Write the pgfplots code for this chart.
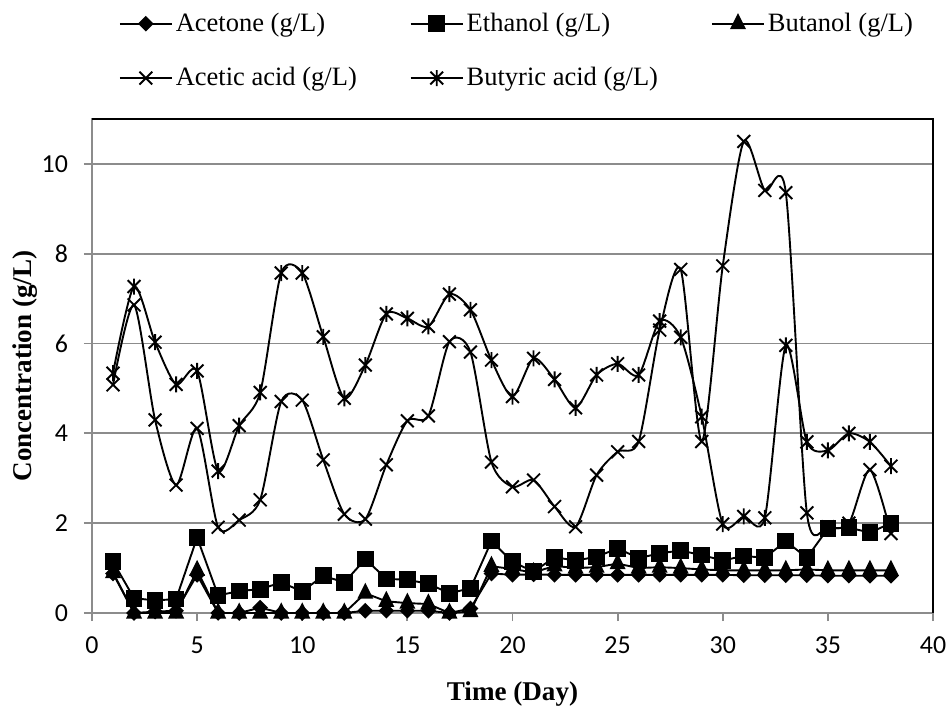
\documentclass[border=0pt]{standalone}
\usepackage{fontspec}
\setmainfont{Liberation Serif}
\newfontfamily\calibri{Carlito}
\usepackage{pgfplots}
\usepackage{pgfplotstable}
\pgfplotsset{compat=1.18}
\usetikzlibrary{plotmarks}

\definecolor{gridgray}{RGB}{140,140,140}

% marker shapes in the spreadsheet style
\pgfdeclareplotmark{dia}{%
  \pgfpathmoveto{\pgfqpoint{0pt}{\pgfplotmarksize}}%
  \pgfpathlineto{\pgfqpoint{\pgfplotmarksize}{0pt}}%
  \pgfpathlineto{\pgfqpoint{0pt}{-\pgfplotmarksize}}%
  \pgfpathlineto{\pgfqpoint{-\pgfplotmarksize}{0pt}}%
  \pgfpathclose\pgfusepathqfillstroke}
\pgfdeclareplotmark{tri}{%
  \pgfpathmoveto{\pgfqpoint{0pt}{1.3\pgfplotmarksize}}%
  \pgfpathlineto{\pgfqpoint{\pgfplotmarksize}{-0.7\pgfplotmarksize}}%
  \pgfpathlineto{\pgfqpoint{-\pgfplotmarksize}{-0.7\pgfplotmarksize}}%
  \pgfpathclose\pgfusepathqfillstroke}
\pgfdeclareplotmark{xmk}{%
  \pgfpathmoveto{\pgfqpoint{-\pgfplotmarksize}{-\pgfplotmarksize}}%
  \pgfpathlineto{\pgfqpoint{\pgfplotmarksize}{\pgfplotmarksize}}%
  \pgfpathmoveto{\pgfqpoint{-\pgfplotmarksize}{\pgfplotmarksize}}%
  \pgfpathlineto{\pgfqpoint{\pgfplotmarksize}{-\pgfplotmarksize}}%
  \pgfusepathqstroke}
\pgfdeclareplotmark{xstar}{%
  \pgfpathmoveto{\pgfqpoint{-\pgfplotmarksize}{-\pgfplotmarksize}}%
  \pgfpathlineto{\pgfqpoint{\pgfplotmarksize}{\pgfplotmarksize}}%
  \pgfpathmoveto{\pgfqpoint{-\pgfplotmarksize}{\pgfplotmarksize}}%
  \pgfpathlineto{\pgfqpoint{\pgfplotmarksize}{-\pgfplotmarksize}}%
  \pgfpathmoveto{\pgfqpoint{0pt}{-1.25\pgfplotmarksize}}%
  \pgfpathlineto{\pgfqpoint{0pt}{1.25\pgfplotmarksize}}%
  \pgfusepathqstroke}

% day, acetone, ethanol, butanol, acetic acid, butyric acid (g/L)
\pgfplotstableread{
day ace eth but acetic butyric
1  0.88 1.14 0.90 5.08 5.34
2  0.00 0.33 0.00 6.86 7.27
3  0.03 0.28 0.00 4.30 6.03
4  0.05 0.31 0.00 2.85 5.09
5  0.85 1.68 0.95 4.11 5.39
6  0.00 0.39 0.00 1.91 3.16
7  0.00 0.49 0.00 2.07 4.17
8  0.12 0.53 0.00 2.52 4.91
9  0.00 0.68 0.00 4.71 7.57
10 0.00 0.48 0.00 4.74 7.57
11 0.00 0.83 0.00 3.41 6.15
12 0.00 0.68 0.00 2.20 4.78
13 0.05 1.20 0.44 2.09 5.52
14 0.05 0.76 0.26 3.30 6.66
15 0.05 0.74 0.22 4.28 6.56
16 0.05 0.65 0.20 4.39 6.38
17 0.00 0.44 0.00 6.04 7.10
18 0.10 0.55 0.03 5.81 6.75
19 0.88 1.60 1.04 3.36 5.63
20 0.85 1.14 0.98 2.81 4.82
21 0.86 0.92 0.90 2.96 5.67
22 0.85 1.24 1.05 2.37 5.20
23 0.85 1.17 1.00 1.92 4.57
24 0.85 1.25 1.02 3.07 5.30
25 0.85 1.44 1.10 3.59 5.55
26 0.85 1.22 1.00 3.82 5.30
27 0.85 1.33 1.02 6.30 6.50
28 0.85 1.39 1.00 7.65 6.14
29 0.85 1.29 0.97 3.82 4.37
30 0.85 1.17 0.95 7.73 1.98
31 0.84 1.27 0.95 10.50 2.15
32 0.84 1.23 0.95 9.41 2.12
33 0.84 1.60 0.95 9.36 5.96
34 0.84 1.23 0.97 2.23 3.81
35 0.83 1.88 0.95 1.92 3.62
36 0.83 1.90 0.95 2.00 4.00
37 0.83 1.79 0.95 3.19 3.81
38 0.83 2.00 0.95 1.77 3.27
}\datatable

\begin{document}
\begin{tikzpicture}
\begin{axis}[
  scale only axis,
  width=420.5bp, height=247bp,
  xmin=0, xmax=40, ymin=0, ymax=11,
  xtick={0,5,...,40}, ytick={0,2,...,10},
  tick align=outside, major tick length=4bp,
  xtick pos=bottom, ytick pos=left,
  tick style={gridgray, line width=0.9bp},
  axis line style={gridgray, line width=0.9bp},
  ymajorgrids, major grid style={gridgray, line width=0.9bp},
  ticklabel style={font=\calibri\fontsize{13}{15}\selectfont},
  yticklabel style={xshift=-4.5bp},
  xticklabel style={yshift=-4.5bp},
  /pgf/number format/assume math mode=true,
  xlabel={\textbf{Time (Day)}},
  ylabel={\textbf{Concentration (g/L)}},
  label style={font=\fontsize{13.6}{16}\selectfont},
  xlabel style={at={(axis description cs:0.5,-0.1781)}, anchor=base},
  ylabel style={at={(axis description cs:-0.0725,0.5)}, anchor=base, rotate=0},
  clip=false,
  every axis plot/.append style={black, line width=0.95bp},
  legend columns=3,
  legend cell align=left,
  legend image code/.code={%
    \draw[mark repeat=2,mark phase=2,#1] plot coordinates {(0bp,0bp) (13bp,0bp) (26bp,0bp)};},
  legend style={at={(0.032,1.2206)}, anchor=north west, draw=none, fill=none,
    font=\fontsize{13.3}{16}\selectfont, inner sep=0pt, outer sep=0pt,
    row sep=13.5bp, nodes={inner sep=1.5bp},
    /tikz/every even column/.append style={column sep=25bp}},
]
\addplot[mark=dia, mark size=3.25bp, mark options={fill=black}] table[x=day, y=ace] {\datatable};
\addlegendentry{Acetone (g/L)}
\addplot[mark=square*, mark size=3.7bp, mark options={fill=black}] table[x=day, y=eth] {\datatable};
\addlegendentry{Ethanol (g/L)}
\addplot[mark=tri, mark size=3.25bp, mark options={fill=black}] table[x=day, y=but] {\datatable};
\addlegendentry{Butanol (g/L)}
\addplot[smooth, tension=0.45, mark=xmk, mark size=3.2bp] table[x=day, y=acetic] {\datatable};
\addlegendentry{Acetic acid (g/L)}
\addplot[smooth, tension=0.45, mark=xstar, mark size=3.2bp] table[x=day, y=butyric] {\datatable};
\addlegendentry{Butyric acid (g/L)}
\draw[black, line width=0.9bp] (rel axis cs:0,1) -- (rel axis cs:1,1) -- (rel axis cs:1,0);
\end{axis}
\pgfresetboundingbox
\path ([shift={(-46bp,-48bp)}]current axis.south west) rectangle ([shift={(8.5bp,59.5bp)}]current axis.north east);
\end{tikzpicture}
\end{document}
